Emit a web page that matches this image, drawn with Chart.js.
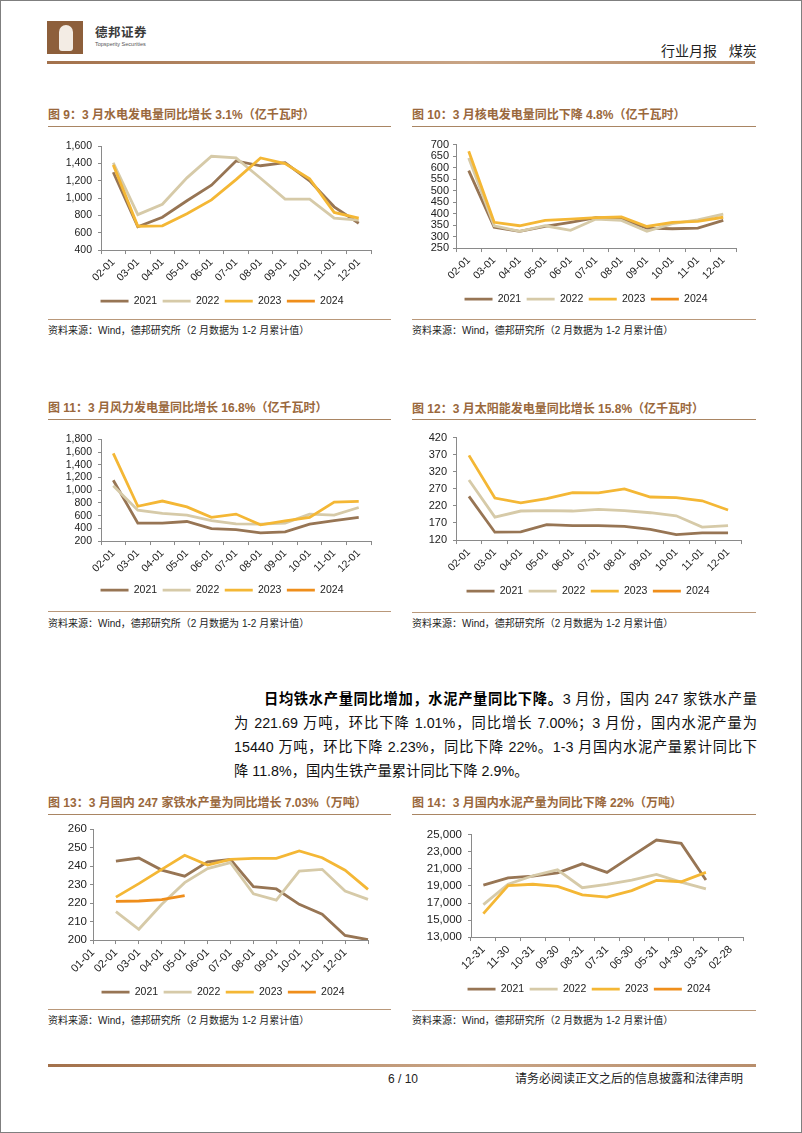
<!DOCTYPE html>
<html>
<head>
<meta charset="utf-8">
<script src="https://cdn.jsdelivr.net/npm/chart.js@4.4.1/dist/chart.umd.min.js"></script>
<style>
  html, body { margin: 0; padding: 0; background: #fff; }
  #page {
    position: relative; width: 802px; height: 1133px; box-sizing: border-box;
    border: 1px solid #7f7f7f; overflow: hidden;
    font-family: "Liberation Sans", "Noto Sans CJK SC", sans-serif; color: #222;
  }
  .title { position: absolute; font-size: 12px; font-weight: bold; color: #9a683c; white-space: nowrap; line-height: 14px; }
  .rule { position: absolute; height: 0; border-top: 1.5px solid #a98563; }
  .srcrule { position: absolute; height: 0; border-top: 1px solid #b9987a; }
  .src { position: absolute; font-size: 10px; color: #222; white-space: nowrap; line-height: 12px; }
  .box { position: absolute; }
  .pl { position: absolute; font-size: 14.3px; line-height: 24px; height: 24px; text-align: justify; text-align-last: justify; color: #111; }
  .pl b { font-weight: bold; color: #000; }
</style>
</head>
<body>
<div id="page">
  <!-- header -->
  <div style="position:absolute;left:46px;top:20px;width:36px;height:33px;background:#8d5f3b;"></div>
  <div style="position:absolute;left:58px;top:24px;width:14px;height:26px;border-radius:7px 7px 3px 3px;background:#f3ece4;"></div>
  <div style="position:absolute;left:94px;top:25px;font-size:12.5px;font-weight:bold;color:#3a3a3a;line-height:14px;letter-spacing:0.5px;">德邦证券</div>
  <div style="position:absolute;left:94px;top:40px;font-size:5.5px;color:#555;line-height:6px;white-space:nowrap;">Topsperity Securities</div>
  <div style="position:absolute;left:660px;top:42px;font-size:14px;color:#222;line-height:16px;white-space:nowrap;">行业月报&nbsp;&nbsp;&nbsp;煤炭</div>
  <div style="position:absolute;left:46px;top:60px;width:708px;height:3px;background:linear-gradient(90deg,#a3714b,#c9a586 60%,#b88e6c);"></div>

  <!-- chart 9 -->
  <div class="title" style="left:47px;top:107px;">图 9：3 月水电发电量同比增长 3.1%（亿千瓦时）</div>
  <div class="rule" style="left:47px;top:125px;width:343px;"></div>
  <div class="box" id="c9"><canvas></canvas></div>
  <div class="srcrule" style="left:47px;top:318px;width:343px;"></div>
  <div class="src" style="left:47px;top:324px;">资料来源：Wind，德邦研究所（2 月数据为 1-2 月累计值）</div>

  <!-- chart 10 -->
  <div class="title" style="left:411px;top:107px;">图 10：3 月核电发电量同比下降 4.8%（亿千瓦时）</div>
  <div class="rule" style="left:411px;top:125px;width:344px;"></div>
  <div class="box" id="c10"><canvas></canvas></div>
  <div class="srcrule" style="left:411px;top:318px;width:344px;"></div>
  <div class="src" style="left:411px;top:324px;">资料来源：Wind，德邦研究所（2 月数据为 1-2 月累计值）</div>

  <!-- chart 11 -->
  <div class="title" style="left:47px;top:400px;">图 11：3 月风力发电量同比增长 16.8%（亿千瓦时）</div>
  <div class="rule" style="left:47px;top:418px;width:343px;"></div>
  <div class="box" id="c11"><canvas></canvas></div>
  <div class="srcrule" style="left:47px;top:610px;width:343px;"></div>
  <div class="src" style="left:47px;top:617px;">资料来源：Wind，德邦研究所（2 月数据为 1-2 月累计值）</div>

  <!-- chart 12 -->
  <div class="title" style="left:411px;top:401px;">图 12：3 月太阳能发电量同比增长 15.8%（亿千瓦时）</div>
  <div class="rule" style="left:411px;top:418px;width:344px;"></div>
  <div class="box" id="c12"><canvas></canvas></div>
  <div class="srcrule" style="left:411px;top:611px;width:344px;"></div>
  <div class="src" style="left:411px;top:617px;">资料来源：Wind，德邦研究所（2 月数据为 1-2 月累计值）</div>

  <!-- paragraph -->
  <div class="pl" style="left:263px;top:686px;width:493px;"><b>日均铁水产量同比增加，水泥产量同比下降。</b>3 月份，国内 247 家铁水产量</div>
  <div class="pl" style="left:233px;top:710px;width:523px;">为 221.69 万吨，环比下降 1.01%，同比增长 7.00%；3 月份，国内水泥产量为</div>
  <div class="pl" style="left:233px;top:734px;width:523px;">15440 万吨，环比下降 2.23%，同比下降 22%。1-3 月国内水泥产量累计同比下</div>
  <div class="pl" style="left:233px;top:758px;width:523px;text-align:left;text-align-last:left;">降 11.8%，国内生铁产量累计同比下降 2.9%。</div>

  <!-- chart 13 -->
  <div class="title" style="left:47px;top:795px;">图 13：3 月国内 247 家铁水产量为同比增长 7.03%（万吨）</div>
  <div class="rule" style="left:47px;top:813px;width:343px;"></div>
  <div class="box" id="c13"><canvas></canvas></div>
  <div class="srcrule" style="left:47px;top:1008px;width:343px;"></div>
  <div class="src" style="left:47px;top:1014px;">资料来源：Wind，德邦研究所（2 月数据为 1-2 月累计值）</div>

  <!-- chart 14 -->
  <div class="title" style="left:411px;top:795px;">图 14：3 月国内水泥产量为同比下降 22%（万吨）</div>
  <div class="rule" style="left:411px;top:813px;width:344px;"></div>
  <div class="box" id="c14"><canvas></canvas></div>
  <div class="srcrule" style="left:411px;top:1009px;width:344px;"></div>
  <div class="src" style="left:411px;top:1014px;">资料来源：Wind，德邦研究所（2 月数据为 1-2 月累计值）</div>

  <!-- footer -->
  <div style="position:absolute;left:47px;top:1063px;width:708px;height:3px;background:linear-gradient(90deg,#a3714b,#c9a586 60%,#b88e6c);"></div>
  <div style="position:absolute;left:387px;top:1071px;font-size:12px;line-height:14px;color:#222;">6 / 10</div>
  <div style="position:absolute;left:514px;top:1071px;font-size:12px;line-height:14px;color:#222;white-space:nowrap;">请务必阅读正文之后的信息披露和法律声明</div>
</div>

<script>
// categories
const monthLabels = ["02-01", "03-01", "04-01", "05-01", "06-01", "07-01", "08-01", "09-01", "10-01", "11-01", "12-01"];
const ironLabels = ["01-01", "02-01", "03-01", "04-01", "05-01", "06-01", "07-01", "08-01", "09-01", "10-01", "11-01", "12-01", ""];
const cementLabels = ["12-31", "11-30", "10-31", "09-30", "08-31", "07-31", "06-30", "05-31", "04-30", "03-31", "02-28"];

// 图9 水电 (亿千瓦时)
const hydro2021 = [1300, 670, 780, 970, 1150, 1430, 1375, 1410, 1200, 900, 710];
const hydro2022 = [1410, 810, 930, 1235, 1485, 1465, 1230, 990, 990, 770, 745];
const hydro2023 = [1385, 675, 680, 820, 980, 1215, 1465, 1400, 1225, 835, 770];
const hydro2024 = [];

// 图10 核电
const nuclear2021 = [587, 341, 323, 344, 362, 382, 376, 337, 334, 337, 370];
const nuclear2022 = [642, 347, 323, 347, 327, 376, 370, 323, 356, 373, 398];
const nuclear2023 = [671, 362, 347, 370, 376, 382, 385, 344, 362, 366, 384];
const nuclear2024 = [];

// 图11 风电
const wind2021 = [1156, 481, 481, 507, 394, 379, 328, 343, 466, 522, 573];
const wind2022 = [1069, 686, 635, 609, 522, 471, 466, 481, 624, 609, 727];
const wind2023 = [1580, 747, 829, 737, 573, 624, 456, 517, 573, 813, 824];
const wind2024 = [];

// 图12 太阳能
const solar2021 = [248, 143, 144, 165, 162, 162, 160, 151, 136, 141, 141];
const solar2022 = [296, 187, 205, 206, 205, 210, 206, 200, 191, 158, 162];
const solar2023 = [368, 243, 229, 241, 259, 258, 270, 246, 244, 235, 208];
const solar2024 = [];

// 图13 铁水 (万吨)
const iron2021 = [null, 242.7, 244.3, 237.8, 234.5, 242.3, 243.5, 228.8, 227.6, 219.3, 214.0, 202.5, 200.2];
const iron2022 = [null, 215.3, 205.8, 219.3, 231.0, 238.6, 241.8, 225.0, 221.6, 237.3, 238.2, 226.5, 222.0];
const iron2023 = [null, 223.2, 230.5, 238.2, 245.8, 240.5, 243.6, 244.1, 244.1, 248.1, 244.5, 237.7, 227.4];
const iron2024 = [null, 220.9, 221.1, 221.8, 224.0];

// 图14 水泥 (万吨)
const cement2021 = [19100, 19950, 20150, 20550, 21600, 20600, 22500, 24400, 24000, 19700];
const cement2022 = [16800, 19200, 20200, 20900, 18800, 19200, 19700, 20350, 19450, 18650];
const cement2023 = [15750, 19050, 19200, 18950, 17950, 17700, 18450, 19650, 19500, 20600];
const cement2024 = [];

// y ticks
const hydroTicks = [400, 600, 800, 1000, 1200, 1400, 1600];
const nuclearTicks = [250, 300, 350, 400, 450, 500, 550, 600, 650, 700];
const windTicks = [200, 400, 600, 800, 1000, 1200, 1400, 1600, 1800];
const solarTicks = [120, 170, 220, 270, 320, 370, 420];
const ironTicks = [200, 210, 220, 230, 240, 250, 260];
const cementTicks = [13000, 15000, 17000, 19000, 21000, 23000, 25000];

const yearNames = ["2021", "2022", "2023", "2024"];
const yearColors = ["#977554", "#d6caa8", "#f4b735", "#ef8e1b"];
const axisColor = "#8a8a8a";

const LEGEND_FONT = 10.5;
const LEGEND_PAD = 5.5;

Chart.defaults.font.family = '"Liberation Sans", Arial, sans-serif';
Chart.defaults.color = "#222";
Chart.defaults.animation = false;

// moves the legend sideways so it sits where the reference has it
const legendShift = {
  id: "legendShift",
  afterLayout(chart, args, opts) {
    const lg = chart.legend;
    if (!lg || !opts.dx) return;
    lg.left += opts.dx;
    lg.right += opts.dx;
  },
};

function makeChart(id, box, labels, series, ticks, opts) {
  const wrap = document.getElementById(id);
  const canvasTop = box.top - 10;
  const canvasBottom = box.legendY + LEGEND_FONT / 2 + 10;
  const padRight = box.canvasRight - box.right;
  const yWidth = box.left - box.canvasLeft;
  const xHeight = box.legendY - LEGEND_PAD - LEGEND_FONT / 2 - box.bottom;
  const dx = box.legendX - (box.canvasLeft + box.right) / 2;

  wrap.style.left = box.canvasLeft + "px";
  wrap.style.top = canvasTop + "px";
  wrap.style.width = (box.canvasRight - box.canvasLeft) + "px";
  wrap.style.height = (canvasBottom - canvasTop) + "px";

  const datasets = series.map((values, i) => ({
    label: yearNames[i],
    data: values,
    borderColor: yearColors[i],
    backgroundColor: yearColors[i],
    borderWidth: 2.8,
    pointRadius: 0,
    tension: 0,
    order: 4 - i,
  }));

  return new Chart(wrap.querySelector("canvas"), {
    type: "line",
    data: { labels, datasets },
    plugins: [legendShift],
    options: {
      responsive: true,
      maintainAspectRatio: false,
      locale: "en-US",
      layout: { padding: { top: 10, left: 0, right: padRight, bottom: 0 } },
      plugins: {
        tooltip: { enabled: false },
        legendShift: { dx },
        legend: {
          position: "bottom",
          labels: {
            usePointStyle: true,
            pointStyle: "line",
            pointStyleWidth: 28,
            padding: LEGEND_PAD,
            color: "#222",
            font: { size: LEGEND_FONT },
            sort: (a, b) => a.datasetIndex - b.datasetIndex,
          },
        },
      },
      scales: {
        x: {
          offset: opts.offset,
          grid: { display: true, drawOnChartArea: false, drawTicks: true, tickLength: 4, offset: opts.offset, color: axisColor },
          border: { display: true, color: axisColor },
          ticks: { autoSkip: false, minRotation: 45, maxRotation: 45, padding: 2, color: "#222", font: { size: opts.xFont } },
          afterFit: (scale) => { scale.height = xHeight; },
        },
        y: {
          min: ticks[0],
          max: ticks[ticks.length - 1],
          grid: { display: true, drawOnChartArea: false, drawTicks: true, tickLength: 3, color: axisColor },
          border: { display: true, color: axisColor },
          ticks: { autoSkip: false, stepSize: ticks[1] - ticks[0], padding: opts.yPad, color: "#222", font: { size: opts.yFont } },
          afterFit: (scale) => { scale.width = yWidth; },
        },
      },
    },
  });
}

makeChart("c9",
  { canvasLeft: 47, canvasRight: 390, left: 100, right: 370, top: 143, bottom: 249, legendY: 300, legendX: 221 },
  monthLabels, [hydro2021, hydro2022, hydro2023, hydro2024], hydroTicks,
  { offset: true, xFont: 10.5, yFont: 10.5, yPad: 6 });

makeChart("c10",
  { canvasLeft: 410, canvasRight: 756, left: 455, right: 735, top: 143, bottom: 247, legendY: 298, legendX: 585 },
  monthLabels, [nuclear2021, nuclear2022, nuclear2023, nuclear2024], nuclearTicks,
  { offset: true, xFont: 10.5, yFont: 11, yPad: 4 });

makeChart("c11",
  { canvasLeft: 47, canvasRight: 390, left: 100, right: 370, top: 436, bottom: 540, legendY: 589, legendX: 221 },
  monthLabels, [wind2021, wind2022, wind2023, wind2024], windTicks,
  { offset: true, xFont: 10.5, yFont: 10.5, yPad: 6 });

makeChart("c12",
  { canvasLeft: 410, canvasRight: 756, left: 455, right: 740, top: 434, bottom: 539, legendY: 590, legendX: 587 },
  monthLabels, [solar2021, solar2022, solar2023, solar2024], solarTicks,
  { offset: true, xFont: 10.5, yFont: 11, yPad: 6 });

makeChart("c13",
  { canvasLeft: 47, canvasRight: 390, left: 92, right: 367, top: 828, bottom: 939, legendY: 991, legendX: 222 },
  ironLabels, [iron2021, iron2022, iron2023, iron2024], ironTicks,
  { offset: false, xFont: 11, yFont: 11.5, yPad: 3 });

makeChart("c14",
  { canvasLeft: 410, canvasRight: 756, left: 470, right: 742, top: 831, bottom: 936, legendY: 988, legendX: 588 },
  cementLabels, [cement2021, cement2022, cement2023, cement2024], cementTicks,
  { offset: true, xFont: 11, yFont: 11.5, yPad: 6 });
</script>
</body>
</html>
